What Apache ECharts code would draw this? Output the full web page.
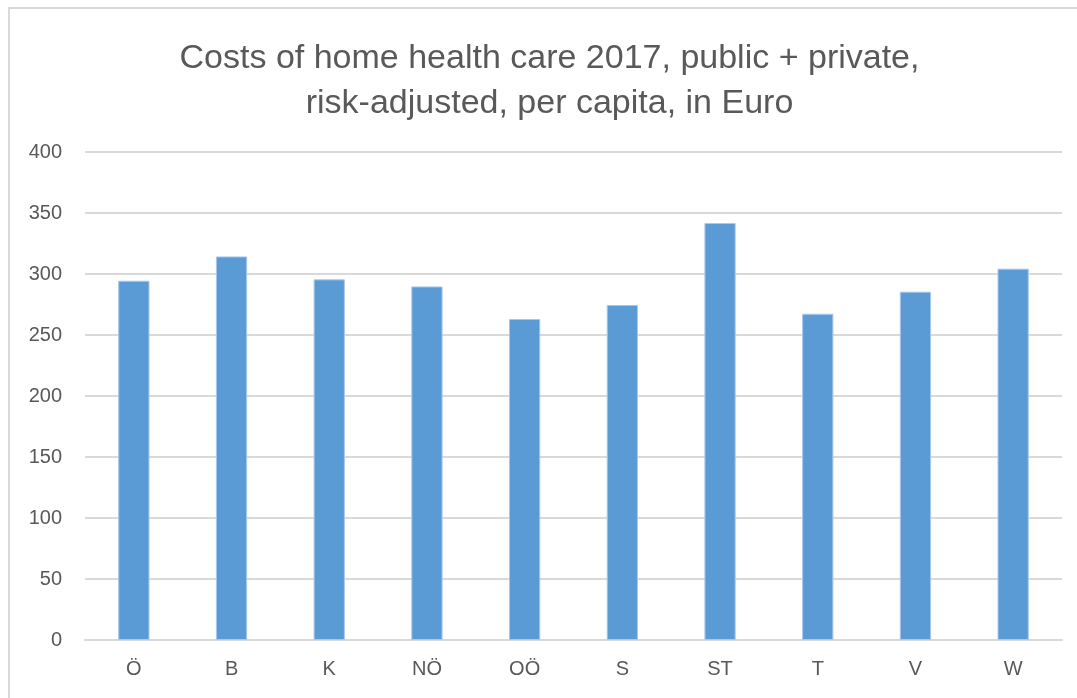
<!DOCTYPE html>
<html>
<head>
<meta charset="utf-8">
<script src="https://cdn.jsdelivr.net/npm/echarts@6/dist/echarts.min.js"></script>
<style>
    html, body { margin: 0; padding: 0; background: #fff; }
    #frame {
        position: absolute; left: 8px; top: 7px;
        width: 1100px; height: 720px;
        border-left: 2px solid #d9d9d9;
        border-top: 2px solid #d9d9d9;
    }
    #chart { position: absolute; left: 22px; top: 0; width: 1055px; height: 698px; }
</style>
</head>
<body>
<div id="frame"></div>
<div id="chart"></div>
<script>
// 地区
const regions = ['Ö', 'B', 'K', 'NÖ', 'OÖ', 'S', 'ST', 'T', 'V', 'W'];
// 人均费用 (欧元)
const costs = [294.5, 314.4, 295.6, 289.8, 263.1, 274.6, 341.8, 267.4, 285.5, 304.4];
// Y轴刻度
const yTicks = [0, 50, 100, 150, 200, 250, 300, 350, 400];

const textColor = '#595959';
const fontName = "'Liberation Sans', sans-serif";

let myChart = echarts.init(document.getElementById('chart'));

let option = {
    animation: false,
    title: {
        text: 'Costs of home health care 2017, public + private,\nrisk-adjusted, per capita, in Euro',
        left: 'center',
        top: 31,
        textStyle: {
            color: textColor,
            fontSize: 34,
            fontWeight: 'normal',
            fontFamily: fontName,
            lineHeight: 45
        }
    },
    grid: {
        left: 63,
        right: 15,
        top: 152,
        bottom: 58,
        containLabel: false
    },
    xAxis: {
        type: 'category',
        data: regions,
        axisTick: { show: false },
        axisLine: { lineStyle: { color: '#d9d9d9', width: 2 } },
        axisLabel: {
            color: textColor,
            fontSize: 20,
            fontFamily: fontName,
            margin: 19
        }
    },
    yAxis: {
        type: 'value',
        min: yTicks[0],
        max: yTicks[yTicks.length - 1],
        interval: 50,
        axisLine: { show: false },
        axisTick: { show: false },
        splitLine: { lineStyle: { color: '#d9d9d9', width: 2 } },
        axisLabel: {
            color: textColor,
            fontSize: 20,
            fontFamily: fontName,
            margin: 23
        }
    },
    series: [
        {
            type: 'bar',
            data: costs,
            barWidth: '32%',
            itemStyle: {
                color: '#5b9bd5',
                borderColor: '#a9c8ea',
                borderWidth: 1
            }
        }
    ]
};

myChart.setOption(option);
</script>
</body>
</html>
